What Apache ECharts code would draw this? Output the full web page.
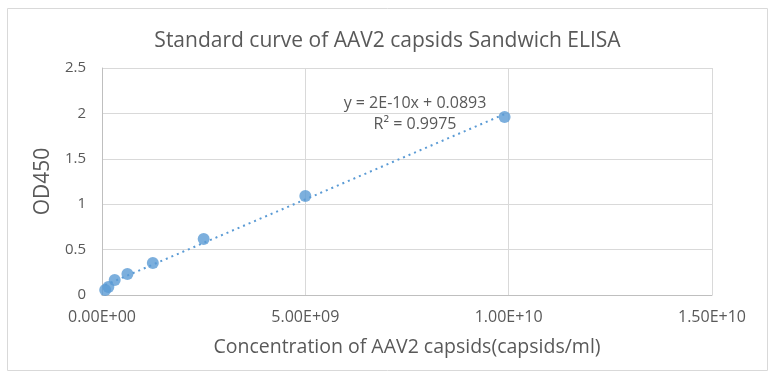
<!DOCTYPE html>
<html><head><meta charset="utf-8">
<script src="https://cdn.jsdelivr.net/npm/echarts@6/dist/echarts.min.js"></script>
<style>html,body{margin:0;padding:0;background:#fff}#c{width:775px;height:378px}</style>
</head><body><div id="c"></div>
<script>
const concentrations = [7.8e7, 1.5625e8, 3.125e8, 6.25e8, 1.25e9, 2.5e9, 5e9, 9.9e9];
const od450 = [0.055, 0.088, 0.165, 0.231, 0.352, 0.617, 1.09, 1.96];
const xTicks = [0, 5e9, 1e10, 1.5e10];
const equationText = 'y = 2E-10x + 0.0893';
const r2Text = 'R² = 0.9975';

// least-squares trendline from the data (as the spreadsheet does)
const n = concentrations.length;
const mx = concentrations.reduce((a,b)=>a+b,0)/n;
const my = od450.reduce((a,b)=>a+b,0)/n;
let sxy=0, sxx=0;
for (let i=0;i<n;i++){ sxy+=(concentrations[i]-mx)*(od450[i]-my); sxx+=(concentrations[i]-mx)**2; }
const slope = sxy/sxx, intercept = my - slope*mx;
const xmin = Math.min(...concentrations), xmax = Math.max(...concentrations);
const trend = [[xmin, intercept+slope*xmin],[xmax, intercept+slope*xmax]];

const FONT = '"Open Sans", "Noto Sans", sans-serif';
const fmt = v=>{ if(v===0) return '0.00E+00'; const e=Math.floor(Math.log10(v)); const m=(v/10**e).toFixed(2); return m+'E+'+String(e).padStart(2,'0'); };
const chart = echarts.init(document.getElementById('c'));
chart.setOption({
  animation:false,
  title:{text:'Standard curve of AAV2 capsids Sandwich ELISA', left:'center', top:26,
    textStyle:{fontFamily:FONT, fontSize:21, fontWeight:'normal', color:'#595959'}},
  grid:{left:102, right:63, top:68, bottom:83},
  xAxis:{type:'value', min:xTicks[0], max:xTicks[xTicks.length-1], interval:xTicks[1]-xTicks[0],
    name:'Concentration of AAV2 capsids(capsids/ml)', nameLocation:'middle', nameGap:42,
    nameTextStyle:{fontFamily:FONT, fontSize:19.5, color:'#595959'},
    axisLine:{lineStyle:{color:'#bfbfbf'}}, axisTick:{show:false},
    axisLabel:{fontFamily:FONT, fontSize:16, color:'#595959', margin:14, formatter:fmt},
    splitLine:{show:true, lineStyle:{color:'#d9d9d9'}}},
  yAxis:{type:'value', min:0, max:2.5, interval:0.5,
    name:'OD450', nameLocation:'middle', nameGap:46, nameRotate:90,
    nameTextStyle:{fontFamily:FONT, fontSize:21, color:'#595959'},
    axisLine:{show:true, lineStyle:{color:'#bfbfbf'}}, axisTick:{show:false},
    axisLabel:{fontFamily:FONT, fontSize:15, color:'#595959', margin:16},
    splitLine:{lineStyle:{color:'#d9d9d9'}}},
  graphic:[
    {type:'rect', shape:{x:7.5,y:8.5,width:760,height:362}, style:{fill:'none', stroke:'#d9d9d9', lineWidth:1}, z:-1},
    {type:'text', x:415, y:103, style:{text:equationText, fontFamily:FONT, fontSize:16, fill:'#595959', align:'center', verticalAlign:'middle'}},
    {type:'text', x:415, y:124, style:{text:r2Text, fontFamily:FONT, fontSize:16, fill:'#595959', align:'center', verticalAlign:'middle'}}
  ],
  series:[
    {type:'line', data:trend, symbol:'none', lineStyle:{color:'#5b9bd5', width:2, type:[2,4]}, z:1},
    {type:'scatter', data:concentrations.map((c,i)=>[c,od450[i]]), symbolSize:12,
      itemStyle:{color:'#5b9bd5'}, z:2}
  ]
});
</script></body></html>
